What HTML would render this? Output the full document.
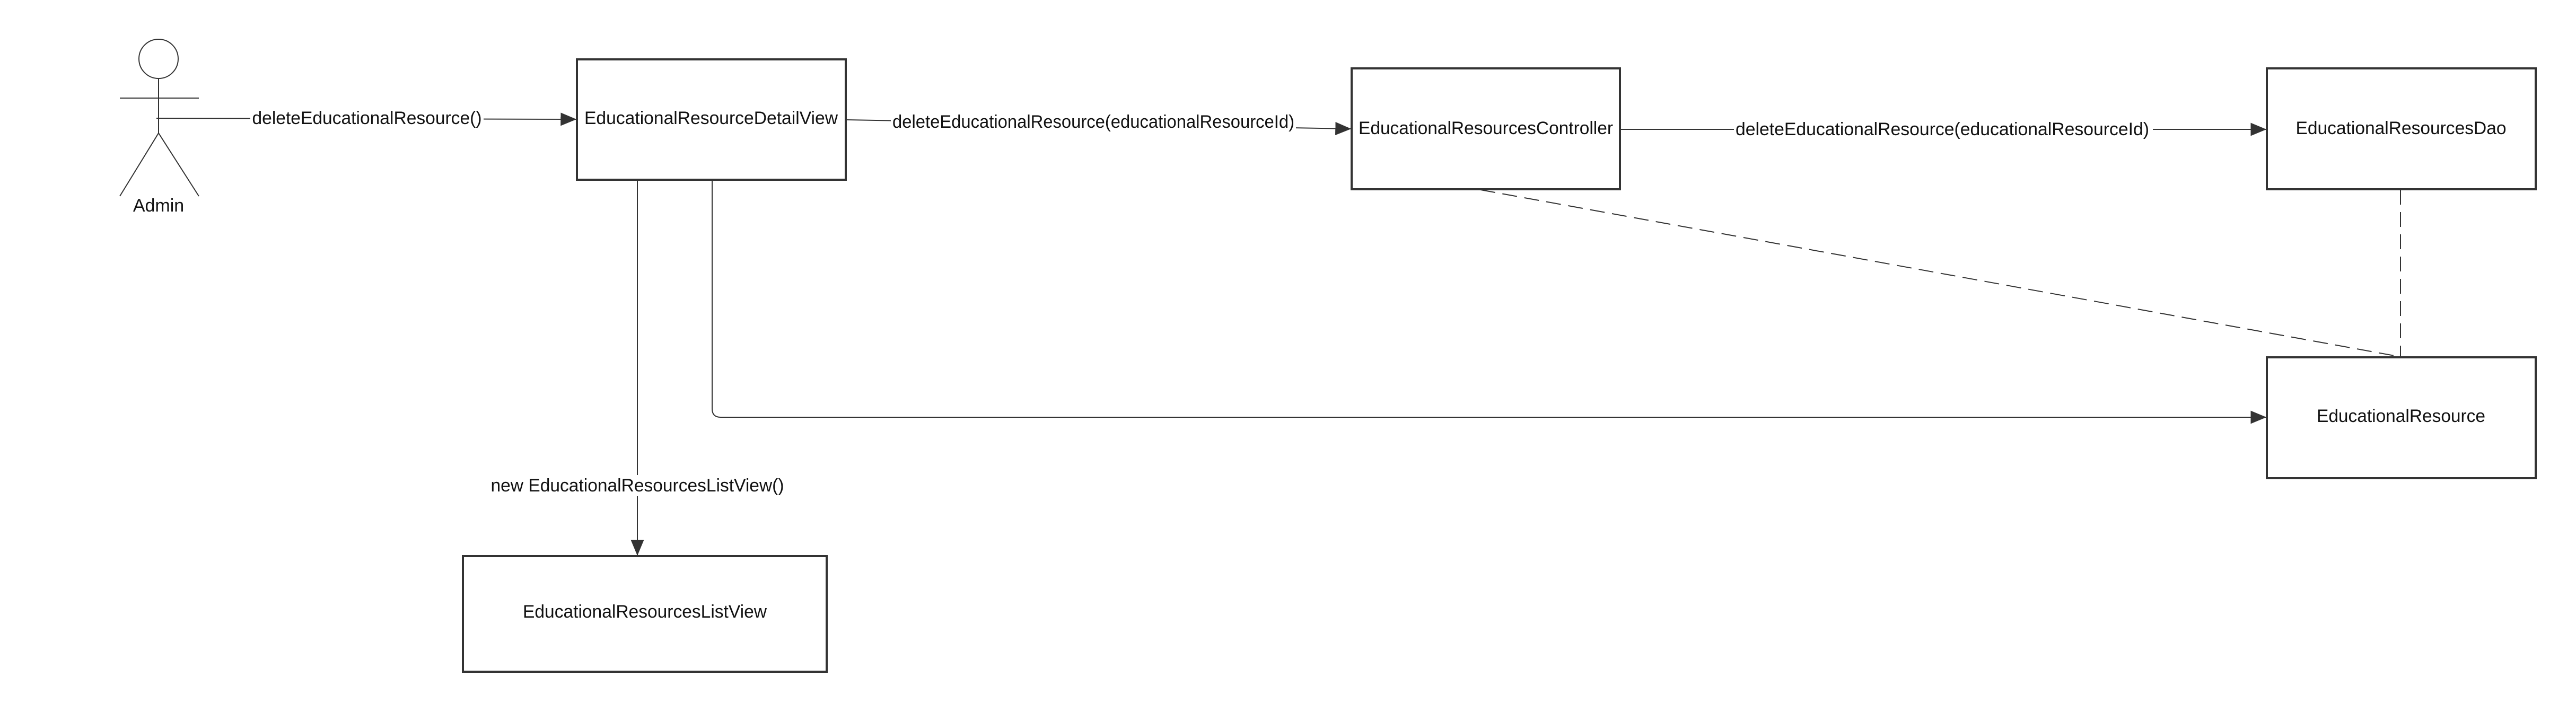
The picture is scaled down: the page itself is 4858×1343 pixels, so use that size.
<!DOCTYPE html>
<html><head><meta charset="utf-8"><style>
html,body{margin:0;padding:0;background:#fff;}
svg{display:block;}
text{font-family:"Liberation Sans",sans-serif;font-size:34px;fill:#111;}
</style></head><body>
<svg width="4858" height="1343" viewBox="0 0 4858 1343" xmlns="http://www.w3.org/2000/svg">
<defs>
<marker id="b" viewBox="0 0 24 24" markerWidth="30" markerHeight="30" refX="23" refY="12" orient="auto" markerUnits="userSpaceOnUse">
<path d="M0,2 L24,12 L0,22 z" fill="#333"/>
</marker>
</defs>
<g stroke="#333" fill="none" stroke-width="2">
<circle cx="299" cy="111" r="37"/>
<line x1="299" y1="148" x2="299" y2="251"/>
<line x1="226" y1="185" x2="375" y2="185"/>
<line x1="299" y1="251" x2="226" y2="370"/>
<line x1="299" y1="251" x2="375" y2="370"/>
<line x1="295" y1="223" x2="1086" y2="225" marker-end="url(#b)"/>
<line x1="1597" y1="226" x2="2547" y2="243" marker-end="url(#b)"/>
<line x1="3057" y1="244" x2="4273" y2="244" marker-end="url(#b)"/>
<line x1="1202" y1="341" x2="1202" y2="1047" marker-end="url(#b)"/>
<path d="M1343,341 L1343,771 Q1343,787 1359,787 L4273,787" marker-end="url(#b)"/>
<line x1="2792" y1="358" x2="4527" y2="673" stroke-dasharray="28,14"/>
<line x1="4527" y1="358" x2="4527" y2="673" stroke-dasharray="28,14"/>
</g>
<rect x="472" y="203" width="440" height="40" fill="#fff"/>
<rect x="1680" y="210" width="764" height="40" fill="#fff"/>
<rect x="3270" y="224" width="790" height="40" fill="#fff"/>
<rect x="920" y="896" width="564" height="40" fill="#fff"/>
<g stroke="#333" fill="#fff" stroke-width="4">
<rect x="1088" y="112" width="507" height="227"/>
<rect x="873" y="1049" width="686" height="218"/>
<rect x="2549" y="129" width="506" height="228"/>
<rect x="4275" y="129" width="507" height="228"/>
<rect x="4275" y="674" width="507" height="228"/>
</g>
<g text-anchor="middle" dominant-baseline="central">
<text x="299" y="388">Admin</text>
<text x="692" y="223" textLength="433" lengthAdjust="spacingAndGlyphs">deleteEducationalResource()</text>
<text x="1341" y="223" textLength="478" lengthAdjust="spacingAndGlyphs">EducationalResourceDetailView</text>
<text x="2062" y="230" textLength="758" lengthAdjust="spacingAndGlyphs">deleteEducationalResource(educationalResourceId)</text>
<text x="2802" y="242" textLength="480" lengthAdjust="spacingAndGlyphs">EducationalResourcesController</text>
<text x="3663" y="244" textLength="780" lengthAdjust="spacingAndGlyphs">deleteEducationalResource(educationalResourceId)</text>
<text x="4528" y="242" textLength="397" lengthAdjust="spacingAndGlyphs">EducationalResourcesDao</text>
<text x="4528" y="785" textLength="318" lengthAdjust="spacingAndGlyphs">EducationalResource</text>
<text x="1202" y="916" textLength="553" lengthAdjust="spacingAndGlyphs">new EducationalResourcesListView()</text>
<text x="1216" y="1154" textLength="460" lengthAdjust="spacingAndGlyphs">EducationalResourcesListView</text>
</g>
</svg>
</body></html>
